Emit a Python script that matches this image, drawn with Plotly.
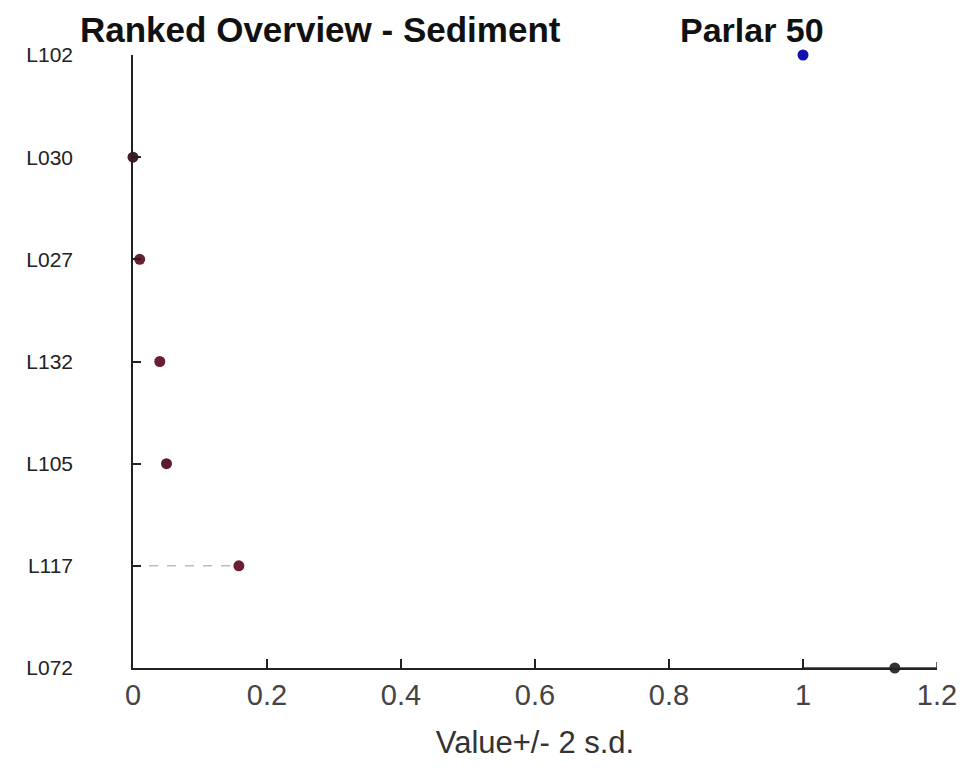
import plotly.graph_objects as go

labs = ["L072", "L117", "L105", "L132", "L027", "L030", "L102"]
vals = [1.137, 0.158, 0.05, 0.04, 0.01, 0.0, 1.0]
lows = [1.0, 0.024, 0.045, 0.035, 0.006, 0.0, None]
highs = [1.2, 0.16, 0.055, 0.045, 0.014, 0.0, None]
cols = ["#333333", "#6b1f33", "#5a1b2e", "#6b1f33", "#6b1f33", "#4a1a28", "#1212b0"]
ypos = list(range(len(labs)))

fig = go.Figure()

# dashed range lines (L117 is the only one that shows)
for i in range(1, len(labs) - 1):
    if lows[i] is None:
        continue
    fig.add_trace(go.Scatter(x=[lows[i], vals[i]], y=[ypos[i], ypos[i]], mode="lines",
                             line=dict(color="#9a9a9a", width=1, dash="dash"),
                             showlegend=False, hoverinfo="skip"))

# L072 with solid error bar
fig.add_trace(go.Scatter(x=[vals[0]], y=[ypos[0]], mode="markers",
                         marker=dict(color=cols[0], size=11),
                         error_x=dict(type="data", symmetric=False,
                                      array=[highs[0] - vals[0]], arrayminus=[vals[0] - lows[0]],
                                      color="#333333", thickness=1.5, width=6),
                         cliponaxis=False, showlegend=False))

fig.add_trace(go.Scatter(x=vals[1:], y=ypos[1:], mode="markers",
                         marker=dict(color=cols[1:], size=11),
                         cliponaxis=False, showlegend=False))

fig.update_layout(
    width=969, height=778,
    paper_bgcolor="white", plot_bgcolor="white",
    margin=dict(l=133, r=32, t=55, b=110),
    font=dict(family="Liberation Sans, Arial", color="#222222"),
    xaxis=dict(range=[0, 1.2], tickvals=[0, 0.2, 0.4, 0.6, 0.8, 1, 1.2],
               ticktext=["0", "0.2", "0.4", "0.6", "0.8", "1", "1.2"],
               showgrid=False, zeroline=False, showline=True, linecolor="#222222", linewidth=1.5,
               ticks="inside", ticklen=9, tickwidth=1.5, tickcolor="#222222",
               tickfont=dict(size=29, color="#444444"), automargin=False,
               title=dict(text="Value+/- 2 s.d.", font=dict(size=31, color="#333333"), standoff=22)),
    yaxis=dict(range=[0, 6], tickvals=ypos, ticktext=labs,
               showgrid=False, zeroline=False, showline=True, linecolor="#222222", linewidth=1.5,
               ticks="inside", ticklen=8, tickwidth=1.5, tickcolor="#222222", automargin=False,
               tickfont=dict(size=21, color="#222222"), ticklabelstandoff=54),
    annotations=[
        dict(text="<b>Ranked Overview - Sediment</b>", x=(320 - 133) / 804.0,
             y=1 + (55 - 30) / 613.0, xref="paper", yref="paper",
             xanchor="center", yanchor="middle",
             showarrow=False, font=dict(size=35, color="#111111")),
        dict(text="<b>Parlar 50</b>", x=(752 - 133) / 804.0,
             y=1 + (55 - 30) / 613.0, xref="paper", yref="paper",
             xanchor="center", yanchor="middle",
             showarrow=False, font=dict(size=34, color="#111111")),
    ],
)

fig.write_html("out.html", config={"displayModeBar": False},
               post_script="document.body.style.margin='0';")
